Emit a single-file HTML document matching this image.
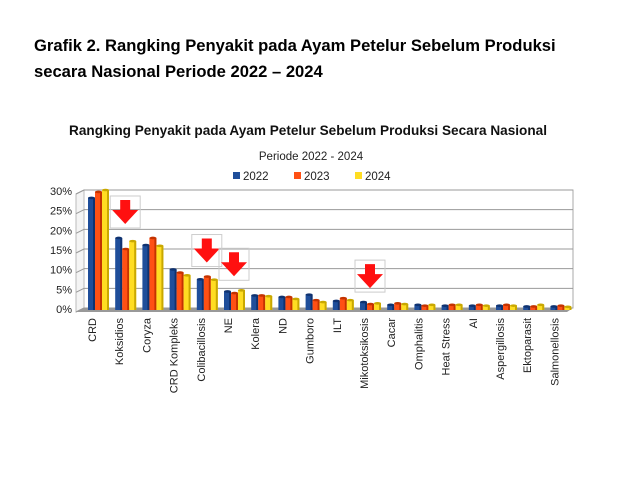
<!DOCTYPE html>
<html><head><meta charset="utf-8"><style>
body{margin:0;background:#fff;width:640px;height:480px;overflow:hidden}
.h{position:absolute;left:34px;font:bold 16.6px "Liberation Sans",sans-serif;color:#000}
</style></head><body>
<div class="h" style="top:36px">Grafik 2. Rangking Penyakit pada Ayam Petelur Sebelum Produksi</div>
<div class="h" style="top:62px">secara Nasional Periode 2022 – 2024</div>
<svg id="c" width="640" height="480" style="position:absolute;left:0;top:0" font-family="Liberation Sans, sans-serif"></svg>
<script>
const categories=["CRD","Koksidios","Coryza","CRD Kompleks","Colibacillosis","NE","Kolera","ND","Gumboro","ILT","Mikotoksikosis","Cacar","Omphalitis","Heat Stress","AI","Aspergillosis","Ektoparasit","Salmonellosis"];
const s2022=[28,17.8,16,9.8,7.3,4.2,3.2,2.8,3.4,1.8,1.5,0.8,0.8,0.6,0.6,0.6,0.4,0.4];
const s2023=[29.5,15,17.8,9,8,3.8,3.2,2.8,2,2.5,1,1.2,0.6,0.8,0.8,0.8,0.4,0.6];
const s2024=[30,17,15.8,8.3,7.2,4.5,3,2.3,1.5,2,1.2,1,0.8,0.8,0.6,0.6,0.8,0.3];
const yTicks=[0,5,10,15,20,25,30];
const arrowIdx=[1,4,5,10];
const svg=document.getElementById('c');const NS='http://www.w3.org/2000/svg';
function el(t,a,p){const e=document.createElementNS(NS,t);for(const k in a)e.setAttribute(k,a[k]);(p||svg).appendChild(e);return e;}
const x0=84,x1=573,yB=308,yT=190;
const y=v=>yB-(v/30)*(yB-yT);
const xc=i=>99+i*27.2;
let t=el('text',{x:308,y:135,'text-anchor':'middle','font-size':13.6,'font-weight':'bold',fill:'#111'});t.textContent='Rangking Penyakit pada Ayam Petelur Sebelum Produksi Secara Nasional';

t=el('text',{x:311,y:160,'text-anchor':'middle','font-size':11.5,fill:'#222'});t.textContent='Periode 2022 - 2024';

const cols=[['#1f4e9a','#0f3270'],['#ff5014','#c43300'],['#ffdd22','#c9a800']];
const names=['2022','2023','2024'];const lx=[233,294,355];
names.forEach((n,k)=>{const g=el('g',{});
el('rect',{x:lx[k],y:172,width:7,height:7,fill:cols[k][0]},g);const tt=el('text',{x:lx[k]+10,y:180,'font-size':11.5,fill:'#222'},g);tt.textContent=n;});
const f=el('rect',{x:x0,y:yT,width:x1-x0,height:yB-yT,fill:'#fff',stroke:'#aaa'});
el('polygon',{points:`${x0-8},${yT+4} ${x0},${yT} ${x0},${yB} ${x0-8},${yB+4}`,fill:'#f4f4f4',stroke:'#bbb'});
yTicks.forEach(v=>{const l=el('line',{x1:x0,x2:x1,y1:y(v),y2:y(v),stroke:'#999'});
el('line',{x1:x0-8,x2:x0,y1:y(v)+4,y2:y(v),stroke:'#999'});
const tx=el('text',{x:72,y:y(v)+5,'text-anchor':'end','font-size':11,fill:'#222'});tx.textContent=v+'%';});
el('polygon',{points:`${x0-8},${yB+4} ${x0},${yB} ${x1},${yB} ${x1-6},${yB+4}`,fill:'#999'});
const series=[s2022,s2023,s2024];
categories.forEach((c,i)=>{series.forEach((s,k)=>{const bx=xc(i)-11+k*7,bt=y(s[i]);
const b=el('rect',{x:bx,y:bt,width:7,height:yB+2-bt,fill:cols[k][0]});
el('rect',{x:bx+5,y:bt,width:2,height:yB+2-bt,fill:cols[k][1]});
el('ellipse',{cx:bx+3.5,cy:bt,rx:3.5,ry:1.3,fill:cols[k][1]});});
const lt=el('text',{transform:`translate(${xc(i)-3},318) rotate(-90)`,'text-anchor':'end','font-size':11,fill:'#222'});lt.textContent=c;});
arrowIdx.forEach(i=>{const cx=xc(i)-1,top=y(Math.max(s2022[i],s2023[i],s2024[i]))-42;
const g=el('g',{});
el('rect',{x:cx-15,y:top,width:30,height:32,fill:'none',stroke:'#ccc'},g);
el('polygon',{points:`${cx-5},${top+4} ${cx+5},${top+4} ${cx+5},${top+14} ${cx+13},${top+14} ${cx},${top+28} ${cx-13},${top+14} ${cx-5},${top+14}`,fill:'#ff1010'},g);});
</script></body></html>
